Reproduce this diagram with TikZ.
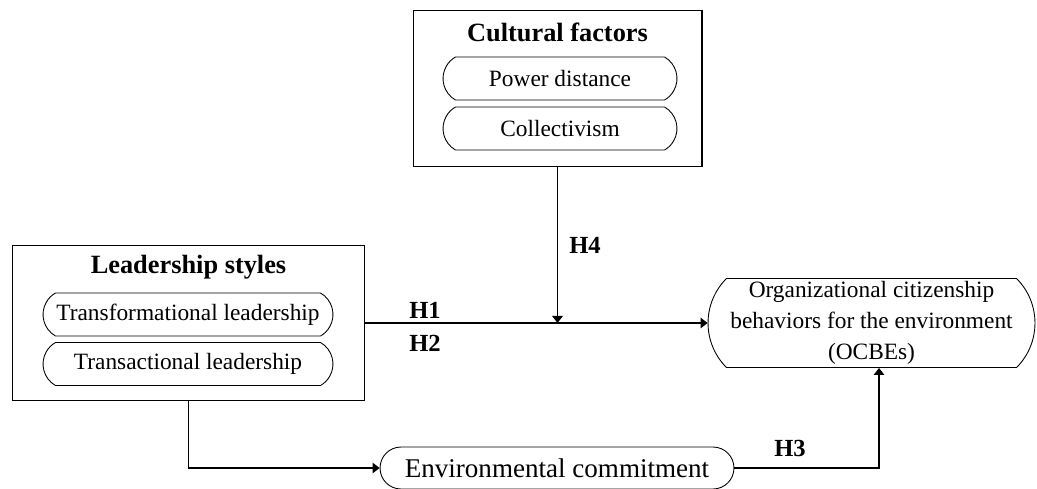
\documentclass[tikz,border=0pt]{standalone}
\usepackage{fontspec}
\setmainfont{Liberation Serif}
\usetikzlibrary{positioning,shapes.misc,arrows.meta}
\tikzset{
  group/.style={draw, line width=0.6pt, minimum width=#1, minimum height=3.11cm},
  pill/.style={draw, rounded rectangle, rounded rectangle arc length=120, line width=0.5pt,
    font=\fontsize{13.3}{17.5}\selectfont, minimum height=0.86cm, inner sep=0pt},
  head/.style={font=\fontsize{15}{18}\selectfont\bfseries},
  hyp/.style={font=\fontsize{14}{16}\selectfont\bfseries},
  link/.style={line width=0.7pt, -{Triangle[length=4pt,width=6pt]}}
}
\begin{document}
\begin{tikzpicture}[x=0.02cm, y=-0.02cm]
\useasboundingbox (0,0) rectangle (1037,488);
% moderator: cultural factors
\node[group=5.78cm] (cult) at (557.5,88.5) {};
\node[head] (culthead) at (557.5,32) {Cultural factors};
\node[pill, minimum width=4.68cm] (power) at (560,78.5) {Power distance};
\node[pill, minimum width=4.68cm] (coll) at (560,128.5) {Collectivism};
% predictor: leadership styles
\node[group=7.06cm] (lead) at (188.5,323) {};
\node[head] (leadhead) at (188.5,267) {Leadership styles};
\node[pill, minimum width=5.8cm] (transf) at (188,314.5) {Transformational leadership};
\node[pill, minimum width=5.8cm] (transa) at (188,364) {Transactional leadership};
% outcome and mediator
\node[pill, rounded rectangle arc length=90, minimum width=6.54cm, minimum height=1.78cm,
  align=center] (ocbe) at (871.5,323)
  {Organizational citizenship\\behaviors for the environment\\(OCBEs)};
\node[pill, rounded rectangle arc length=180, minimum width=7.08cm, minimum height=0.84cm,
  font=\fontsize{15.4}{18}\selectfont] (env) at (557,468) {Environmental commitment};
% paths
\coordinate (join) at (cult.south |- lead.east);
\coordinate (entry) at ([xshift=0.15cm]ocbe.south);
\draw[link] (lead.east) -- (ocbe.west);
\draw[link] (cult.south) -- (join);
\draw[link] (lead.south) |- (env.west);
\draw[link] (env.east) -| (entry);
% hypotheses
\node[hyp] (h1) at (425,310) {H1};
\node[hyp] (h2) at (425,343) {H2};
\node[hyp] (h4) at (585,245) {H4};
\node[hyp] (h3) at (790,448) {H3};
\end{tikzpicture}
\end{document}
